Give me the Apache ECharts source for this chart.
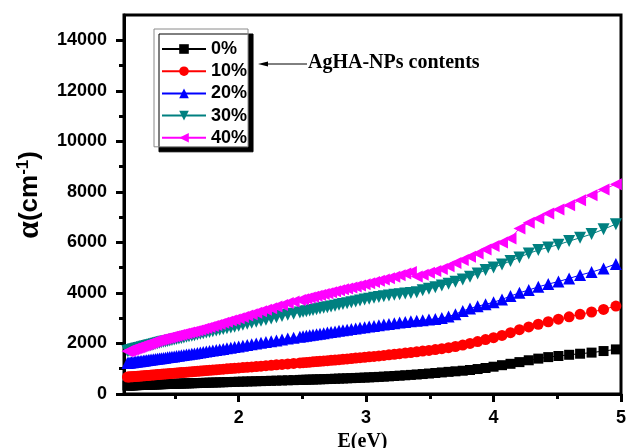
<!DOCTYPE html>
<html>
<head>
<meta charset="utf-8">
<script src="https://cdn.jsdelivr.net/npm/echarts@6/dist/echarts.min.js"></script>
<style>
  html, body { margin: 0; padding: 0; background: #fff; }
  #chart { width: 627px; height: 448px; }
</style>
</head>
<body>
<div id="chart"></div>
<script>
// Photon energy (eV) of each measured point
const energy = [1.127,1.138,1.148,1.159,1.170,1.181,1.192,1.204,1.216,1.228,
  1.240,1.253,1.265,1.278,1.292,1.305,1.319,1.333,1.348,1.363,
  1.378,1.393,1.409,1.425,1.442,1.459,1.476,1.494,1.512,1.531,
  1.550,1.570,1.590,1.610,1.632,1.653,1.676,1.699,1.722,1.746,
  1.771,1.797,1.824,1.851,1.879,1.908,1.938,1.968,2.000,2.033,
  2.067,2.102,2.138,2.175,2.214,2.255,2.296,2.340,2.385,2.431,
  2.480,2.505,2.531,2.557,2.583,2.611,2.638,2.667,2.696,2.725,
  2.756,2.787,2.818,2.851,2.884,2.918,2.952,2.988,3.024,3.062,
  3.100,3.139,3.179,3.221,3.263,3.307,3.351,3.397,3.444,3.493,
  3.543,3.594,3.647,3.701,3.758,3.815,3.875,3.937,4.000,4.066,
  4.133,4.203,4.276,4.351,4.429,4.509,4.593,4.679,4.769,4.863,4.960];

// Absorption coefficient alpha (cm^-1) for each AgHA-NPs content
const alpha0 = [335,337,339,341,343,346,348,350,353,355,
  358,360,363,365,368,371,374,376,379,382,
  385,387,390,393,396,398,401,404,407,410,
  413,416,419,422,426,429,433,436,440,444,
  448,452,456,461,465,470,475,480,485,490,
  495,500,505,510,516,522,528,535,542,549,
  557,561,565,569,573,578,582,587,592,597,
  603,609,615,621,628,635,642,650,658,667,
  677,688,699,712,726,741,756,772,790,810,
  831,854,876,898,921,950,988,1030,1080,1140,
  1195,1262,1335,1400,1460,1505,1552,1594,1638,1700,1765];

const alpha10 = [670,674,678,683,687,692,696,701,706,711,
  716,721,726,732,737,743,749,755,761,767,
  774,780,787,794,801,808,815,823,831,839,
  847,855,863,872,881,890,899,908,918,928,
  938,949,960,971,983,995,1007,1019,1032,1045,
  1059,1073,1088,1103,1119,1136,1153,1171,1190,1209,
  1229,1239,1250,1261,1272,1284,1296,1308,1320,1333,
  1346,1360,1374,1389,1404,1420,1436,1453,1470,1489,
  1508,1528,1549,1571,1594,1618,1643,1669,1697,1726,
  1760,1795,1835,1880,1935,2000,2075,2155,2230,2320,
  2425,2545,2655,2760,2860,2960,3055,3155,3245,3345,3480];

const alpha20 = [1230,1238,1245,1253,1260,1268,1276,1284,1292,1300,
  1309,1318,1326,1335,1345,1354,1364,1374,1384,1395,
  1405,1416,1428,1439,1451,1464,1476,1489,1502,1516,
  1530,1544,1559,1574,1590,1606,1623,1641,1659,1678,
  1698,1718,1739,1761,1784,1807,1831,1856,1882,1909,
  1937,1965,1994,2024,2055,2088,2121,2156,2192,2228,
  2266,2285,2305,2325,2345,2366,2387,2409,2431,2453,
  2476,2499,2522,2546,2570,2594,2618,2643,2668,2694,
  2720,2746,2773,2800,2826,2852,2876,2898,2920,2944,
  2972,3008,3065,3160,3285,3385,3475,3550,3630,3745,
  3875,4005,4115,4240,4350,4450,4575,4705,4825,4970,5150];

const alpha30 = [1700,1714,1728,1742,1757,1771,1786,1801,1817,1833,
  1849,1866,1882,1899,1917,1934,1953,1971,1991,2011,
  2029,2045,2063,2080,2099,2117,2136,2156,2175,2196,
  2217,2239,2261,2283,2307,2330,2355,2380,2404,2430,
  2456,2484,2513,2541,2571,2602,2634,2666,2700,2737,
  2776,2815,2856,2898,2942,2989,3035,3085,3135,3180,
  3227,3252,3277,3302,3328,3355,3381,3410,3438,3466,
  3496,3528,3560,3594,3628,3664,3699,3736,3774,3806,
  3837,3869,3901,3928,3952,3977,4002,4028,4110,4165,
  4225,4295,4365,4445,4536,4639,4774,4904,5011,5130,
  5260,5406,5565,5695,5802,5910,6051,6182,6330,6520,6723];

const alpha40 = [1690,1710,1728,1748,1768,1788,1808,1829,1851,1873,
  1895,1918,1940,1963,1989,2012,2038,2063,2090,2117,
  2140,2159,2179,2199,2220,2241,2263,2285,2308,2331,
  2355,2380,2405,2430,2458,2484,2513,2544,2579,2615,
  2653,2692,2733,2774,2817,2860,2906,2951,3000,3051,
  3104,3158,3214,3271,3332,3395,3459,3527,3597,3659,
  3720,3751,3784,3816,3849,3884,3918,3954,3990,4026,
  4065,4104,4141,4180,4219,4259,4298,4341,4383,4432,
  4482,4533,4586,4644,4704,4767,4830,4650,4720,4795,
  4870,4950,5060,5180,5300,5430,5565,5715,5853,6000,
  6158,6553,6775,6949,7147,7305,7475,7673,7870,8096,8306];

const seriesNames = ['0%', '10%', '20%', '30%', '40%'];
const xTickValues = [2, 3, 4, 5];
const xMinorValues = [1.5, 2.5, 3.5, 4.5];
const yTickValues = [0, 2000, 4000, 6000, 8000, 10000, 12000, 14000];
const yMinorValues = [1000, 3000, 5000, 7000, 9000, 11000, 13000];

const sans = '"Liberation Sans", Arial, sans-serif';
const serif = '"Liberation Serif", "Times New Roman", serif';

const styles = [
  { color: '#000000', symbol: 'rect', size: 10, rotate: 0 },
  { color: '#ff0000', symbol: 'circle', size: 11, rotate: 0 },
  { color: '#0000ff', symbol: 'triangle', size: 12, rotate: 0 },
  { color: '#008080', symbol: 'triangle', size: 12, rotate: 180 },
  { color: '#ff00ff', symbol: 'triangle', size: 12, rotate: 90 }
];
const values = [alpha0, alpha10, alpha20, alpha30, alpha40];

const series = seriesNames.map((name, k) => ({
  name: name,
  type: 'line',
  xAxisIndex: 0,
  yAxisIndex: 0,
  data: energy.map((e, i) => [e, values[k][i]]),
  symbol: styles[k].symbol,
  symbolSize: styles[k].size,
  symbolRotate: styles[k].rotate,
  showSymbol: true,
  showAllSymbol: true,
  itemStyle: { color: styles[k].color, borderWidth: 0 },
  lineStyle: { color: styles[k].color, width: 1 },
  emphasis: { disabled: true },
  z: 2 + k
}));

const axisColor = '#000';
const plainNumber = (v) => String(v);
const chart = echarts.init(document.getElementById('chart'), null, { renderer: 'canvas' });
chart.setOption({
  animation: false,
  backgroundColor: '#fff',
  grid: {
    left: 124, right: 6, top: 15, bottom: 54,
    outerBoundsMode: 'none', containLabel: false,
    show: true, borderColor: axisColor, borderWidth: 3, backgroundColor: 'transparent'
  },
  legend: {
    data: seriesNames,
    orient: 'vertical',
    left: 154, top: 29,
    itemWidth: 44, itemHeight: 12, itemGap: 4.2,
    padding: [11, 1, 0, 7],
    backgroundColor: '#fff',
    borderColor: '#8a8a8a', borderWidth: 1,
    shadowColor: '#000', shadowBlur: 0, shadowOffsetX: 5, shadowOffsetY: 5,
    textStyle: { fontFamily: sans, fontWeight: 'bold', fontSize: 18, color: '#000', lineHeight: 16 },
    selectedMode: false
  },
  xAxis: [{
    type: 'value', min: 1.1, max: 5, position: 'bottom',
    axisLine: { lineStyle: { color: axisColor, width: 3 } },
    axisTick: { customValues: xTickValues, length: 8, lineStyle: { color: axisColor, width: 3 } },
    axisLabel: { customValues: xTickValues, formatter: plainNumber, margin: 15, color: '#000', fontFamily: sans, fontWeight: 'bold', fontSize: 18 },
    splitLine: { show: false },
    name: 'E(eV)', nameLocation: 'middle', nameGap: 26,
    nameTextStyle: { fontFamily: serif, fontWeight: 'bold', fontSize: 20, color: '#000', padding: [0, 20, 0, 0] }
  }, {
    type: 'value', min: 1.1, max: 5, position: 'bottom',
    axisLine: { show: false },
    axisTick: { customValues: xMinorValues, length: 5, lineStyle: { color: axisColor, width: 3 } },
    axisLabel: { show: false },
    splitLine: { show: false }
  }],
  yAxis: [{
    type: 'value', min: 0, max: 15000, position: 'left',
    axisLine: { show: true, lineStyle: { color: axisColor, width: 3 } },
    axisTick: { show: true, customValues: yTickValues, length: 8, lineStyle: { color: axisColor, width: 3 } },
    axisLabel: { customValues: yTickValues, formatter: plainNumber, margin: 17, color: '#000', fontFamily: sans, fontWeight: 'bold', fontSize: 18 },
    splitLine: { show: false },
    name: '{a|α}(cm{s|-1})', nameLocation: 'middle', nameGap: 66,
    nameTextStyle: {
      fontFamily: sans, fontWeight: 'bold', fontSize: 26, color: '#000', padding: [0, 0, 0, 19],
      rich: {
        a: { fontFamily: serif, fontWeight: 'bold', fontSize: 32, color: '#000' },
        s: { fontFamily: sans, fontWeight: 'bold', fontSize: 17, color: '#000', padding: [0, 0, 13, 0] }
      }
    }
  }, {
    type: 'value', min: 0, max: 15000, position: 'left',
    axisLine: { show: false },
    axisTick: { show: true, customValues: yMinorValues, length: 5, lineStyle: { color: axisColor, width: 3 } },
    axisLabel: { show: false },
    splitLine: { show: false }
  }],
  graphic: [
    { type: 'line', shape: { x1: 263, y1: 64, x2: 307, y2: 64 }, style: { stroke: '#000', lineWidth: 1 } },
    { type: 'polygon', shape: { points: [[258, 64], [268, 61.5], [268, 66.5]] }, style: { fill: '#000' } },
    { type: 'text', x: 308, y: 63, style: { text: 'AgHA-NPs contents', font: 'bold 20px ' + serif, fill: '#000', verticalAlign: 'middle' } }
  ],
  series: series
});
</script>
</body>
</html>
